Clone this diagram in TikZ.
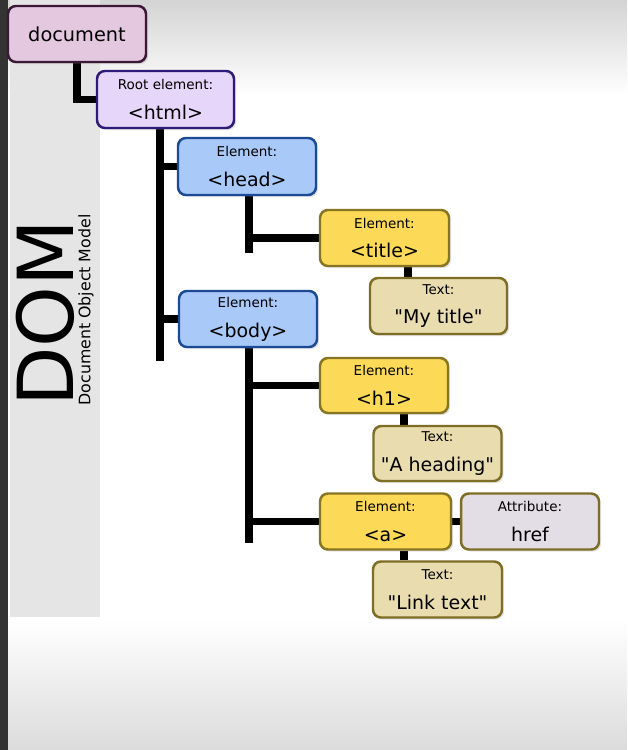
\documentclass[tikz,border=0pt]{standalone}
\usepackage{fontspec}
\setmainfont{DejaVu Sans}
\usetikzlibrary{shadows}

\definecolor{docfill}{HTML}{E4C8DF}
\definecolor{docline}{HTML}{3A1836}
\definecolor{rootfill}{HTML}{E6D6FA}
\definecolor{rootline}{HTML}{2E1A78}
\definecolor{elemfill}{HTML}{A9C9F9}
\definecolor{elemline}{HTML}{1C4A94}
\definecolor{tagfill}{HTML}{FCDA58}
\definecolor{tagline}{HTML}{877521}
\definecolor{txtfill}{HTML}{E9DDB0}
\definecolor{txtline}{HTML}{7D6D25}
\definecolor{attrfill}{HTML}{E3DDE5}

\pgfdeclarelayer{back}
\pgfdeclarelayer{wires}
\pgfsetlayers{back,wires,main}

% two-line box text: small caption, then the tag
\newcommand{\boxlabel}[2]{{\fontsize{7.7}{8}\selectfont #1}\\#2}
\newcommand{\qq}[1]{\textquotedbl#1\textquotedbl}

\tikzset{
    nodebox/.style={draw, line width=1.4pt, rounded corners=4.5pt, align=center,
        inner sep=0pt, font=\fontsize{10.8}{17}\selectfont,
        drop shadow={shadow xshift=1.2pt, shadow yshift=-1.2pt, opacity=0.22}},
    docbox/.style={nodebox, fill=docfill, draw=docline},
    rootbox/.style={nodebox, fill=rootfill, draw=rootline},
    elembox/.style={nodebox, fill=elemfill, draw=elemline},
    tagbox/.style={nodebox, fill=tagfill, draw=tagline},
    txtbox/.style={nodebox, fill=txtfill, draw=txtline},
    attrbox/.style={nodebox, fill=attrfill, draw=txtline},
    wire/.style={line width=4pt, black}
}

\begin{document}
\begin{tikzpicture}[x=0.02cm, y=-0.02cm]
    \useasboundingbox (0,0) rectangle (627,750);

    % Backdrop
    \begin{pgfonlayer}{back}
        \fill[white] (0,0) rectangle (627,750);
        \shade[top color=black!17, bottom color=white] (0,0) rectangle (627,95);
        \shade[top color=white, bottom color=black!14] (0,620) rectangle (627,750);
        \fill[black!80] (0,0) rectangle (8,750);
        \fill[black!10] (10,0) rectangle (100,617);
    \end{pgfonlayer}

    % Side title
    \node[rotate=90, inner sep=0pt, font=\fontsize{44}{44}\selectfont] (dom) at (45,313) {DOM};
    \node[rotate=90, inner sep=0pt, font=\fontsize{9}{9}\selectfont] (domlong) at (86,310) {Document Object Model};

    % Tree nodes
    \node[docbox, minimum width=2.76cm, minimum height=1.12cm, font=\fontsize{11}{13}\selectfont] (doc) at (77,34) {document};
    \node[rootbox, minimum width=2.74cm, minimum height=1.14cm] (html) at (165.5,99.5) {\boxlabel{Root element:}{<html>}};

    \node[elembox, minimum width=2.76cm, minimum height=1.14cm] (head) at (247,166.5) {\boxlabel{Element:}{<head>}};
    \node[tagbox, minimum width=2.58cm, minimum height=1.12cm] (title) at (384.5,238) {\boxlabel{Element:}{<title>}};
    \node[txtbox, minimum width=2.74cm, minimum height=1.12cm] (mytitle) at (438.5,306) {\boxlabel{Text:}{\qq{My title}}};

    \node[elembox, minimum width=2.76cm, minimum height=1.12cm] (body) at (248,319) {\boxlabel{Element:}{<body>}};
    \node[tagbox, minimum width=2.56cm, minimum height=1.1cm] (h1) at (384,385.5) {\boxlabel{Element:}{<h1>}};
    \node[txtbox, minimum width=2.56cm, minimum height=1.1cm] (heading) at (437.5,453.5) {\boxlabel{Text:}{\qq{A heading}}};
    \node[tagbox, minimum width=2.62cm, minimum height=1.12cm] (a) at (385.5,521.5) {\boxlabel{Element:}{<a>}};
    \node[attrbox, minimum width=2.76cm, minimum height=1.12cm] (href) at (530,521.5) {\boxlabel{Attribute:}{href}};
    \node[txtbox, minimum width=2.58cm, minimum height=1.12cm] (linktext) at (437.5,589.5) {\boxlabel{Text:}{\qq{Link text}}};

    % Connectors
    \coordinate (htmlend) at (160,361);
    \coordinate (headend) at (249,253);
    \coordinate (bodyend) at (249,543);
    \coordinate (titlelink) at (408,272);
    \coordinate (h1link) at (404,420);
    \coordinate (alink) at (404,556);
    \begin{pgfonlayer}{wires}
        \draw[wire] (doc.south) |- (html.west);
        \draw[wire] (html.south -| htmlend) -- (htmlend);
        \draw[wire] (head.west) -- (head.west -| htmlend);
        \draw[wire] (body.west) -- (body.west -| htmlend);

        \draw[wire] (head.south -| headend) -- (headend);
        \draw[wire] (title.west) -- (title.west -| headend);
        \draw[wire] (title.south -| titlelink) -- (mytitle.north -| titlelink);

        \draw[wire] (body.south -| bodyend) -- (bodyend);
        \draw[wire] (h1.west) -- (h1.west -| bodyend);
        \draw[wire] (a.west) -- (a.west -| bodyend);
        \draw[wire] (h1.south -| h1link) -- (heading.north -| h1link);
        \draw[wire] (a.east) -- (href.west);
        \draw[wire] (a.south -| alink) -- (linktext.north -| alink);
    \end{pgfonlayer}
\end{tikzpicture}
\end{document}
